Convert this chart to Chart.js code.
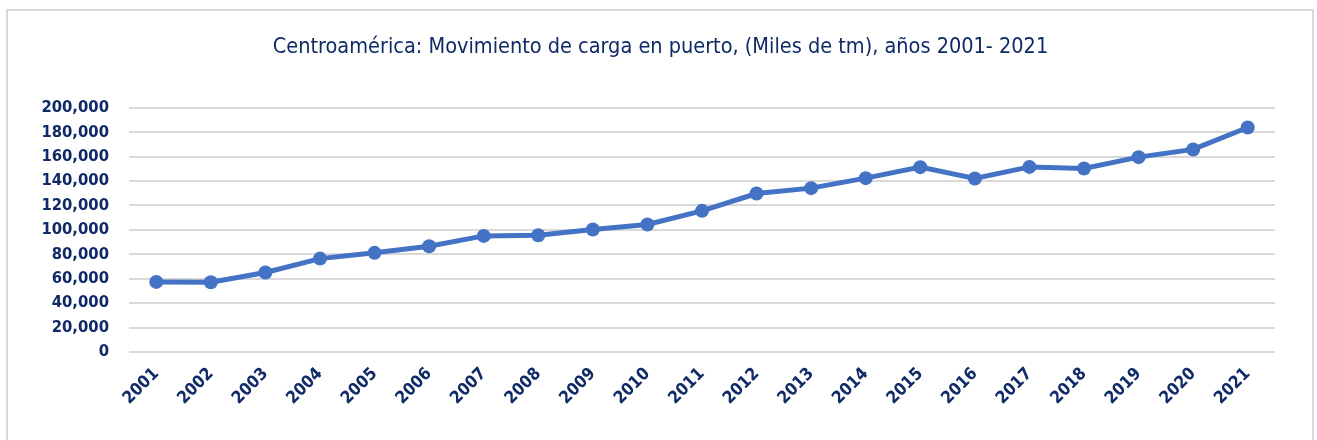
<!DOCTYPE html>
<html>
<head>
<meta charset="utf-8">
<script src="https://cdn.jsdelivr.net/npm/chart.js@4.4.1/dist/chart.umd.min.js"></script>
<style>
    html, body { margin: 0; padding: 0; background: #ffffff; }
    #wrap { position: relative; width: 1317px; height: 440px; overflow: hidden; }
    #frame {
        position: absolute; left: 6px; top: 9px; width: 1308px; height: 440px;
        border: 2px solid #d9d9d9; box-sizing: border-box;
    }
    #cargaChart { position: absolute; left: 0; top: 0; }
</style>
</head>
<body>
<div id="wrap">
    <div id="frame"></div>
    <canvas id="cargaChart" width="1317" height="440"></canvas>
</div>
<script>
// Años y movimiento de carga (miles de tm)
const years = ['2001', '2002', '2003', '2004', '2005', '2006', '2007', '2008', '2009', '2010',
    '2011', '2012', '2013', '2014', '2015', '2016', '2017', '2018', '2019', '2020', '2021'];
const cargo = [57400, 57100, 65100, 76500, 81200, 86600, 95100, 95600, 100300, 104400,
    115600, 129800, 134200, 142400, 151400, 142100, 151600, 150300, 159600, 165900, 183900];
const yTicks = [0, 20000, 40000, 60000, 80000, 100000, 120000, 140000, 160000, 180000, 200000];

const titleText = 'Centroamérica: Movimiento de carga en puerto, (Miles de tm), años 2001- 2021';
const navy = '#0f2a66';
const fontFamily = "'DejaVu Sans Condensed', 'Liberation Sans Narrow', Roboto, sans-serif";

const ctx = document.getElementById('cargaChart').getContext('2d');

new Chart(ctx, {
    type: 'line',
    data: {
        labels: years,
        datasets: [{
            label: 'Movimiento de carga',
            data: cargo,
            borderColor: '#4472c4',
            backgroundColor: '#4472c4',
            borderWidth: 5,
            pointRadius: 7,
            pointBackgroundColor: '#4472c4',
            pointBorderWidth: 0,
            tension: 0,
            fill: false
        }]
    },
    options: {
        responsive: false,
        animation: false,
        layout: {
            padding: { left: 4, right: 0, top: 0, bottom: 0 }
        },
        plugins: {
            legend: { display: false },
            tooltip: { enabled: false },
            title: {
                display: true,
                text: titleText,
                color: navy,
                font: { family: fontFamily, size: 21.5, weight: '500' },
                padding: { top: 35, bottom: 47 }
            }
        },
        scales: {
            x: {
                offset: true,
                grid: { display: false },
                border: { display: false },
                ticks: {
                    color: navy,
                    maxRotation: 45,
                    minRotation: 45,
                    padding: 4,
                    font: { family: fontFamily, size: 17, weight: 'bold' }
                },
                afterFit: (scale) => { scale.height = 88; }
            },
            y: {
                min: 0,
                max: 200000,
                afterBuildTicks: (scale) => { scale.ticks = yTicks.map(v => ({ value: v })); },
                grid: { color: '#d9d9d9', lineWidth: 2, drawTicks: false },
                border: { display: false },
                ticks: {
                    autoSkip: false,
                    color: navy,
                    padding: 20,
                    font: { family: fontFamily, size: 16.5, weight: 'bold' },
                    callback: (value) => value.toLocaleString('en-US')
                },
                afterFit: (scale) => { scale.width = 125; }
            },
            // empty right-hand axis, only reserves the right margin
            yRight: {
                position: 'right',
                display: true,
                grid: { display: false },
                border: { display: false },
                ticks: { display: false },
                afterFit: (scale) => { scale.width = 42; }
            }
        }
    }
});
</script>
</body>
</html>
